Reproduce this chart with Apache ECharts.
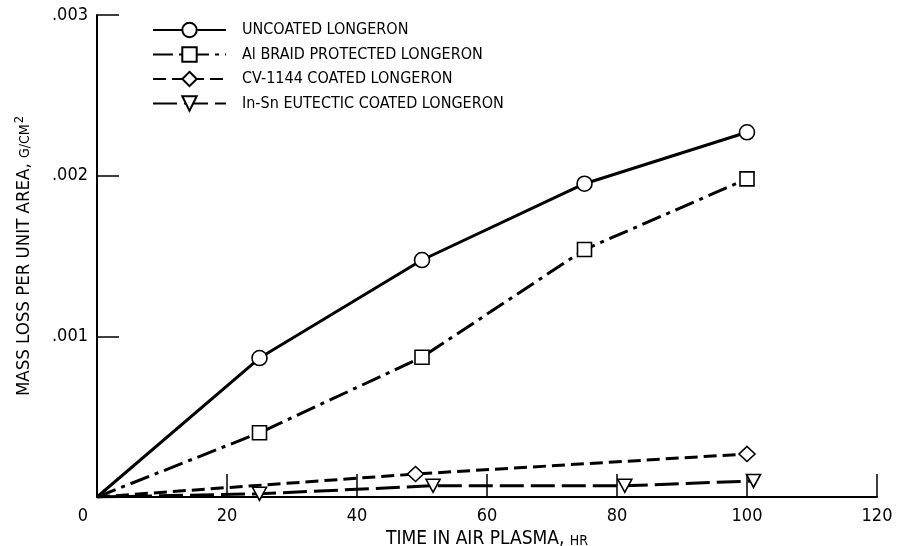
<!DOCTYPE html>
<html>
<head>
<meta charset="utf-8">
<script src="https://cdn.jsdelivr.net/npm/echarts@6/dist/echarts.min.js"></script>
<style>
html,body{margin:0;padding:0;background:#fff;}
#chart{width:899px;height:546px;}
</style>
</head>
<body>
<div id="chart"></div>
<script>
// ---- data ----
var seriesNames = ['UNCOATED LONGERON', 'Al BRAID PROTECTED LONGERON', 'CV-1144 COATED LONGERON', 'In-Sn EUTECTIC COATED LONGERON'];

var uncoatedX = [0, 25, 50, 75, 100];
var uncoatedY = [0, 0.000865, 0.001475, 0.00195, 0.00227];

var braidX = [0, 25, 50, 75, 100];
var braidY = [0, 0.00040, 0.00087, 0.00154, 0.00198];

var cvX = [0, 49, 100];
var cvY = [0, 0.000143, 0.000268];

var insnX = [0, 25, 51.7, 81.2, 101];
var insnY = [0, 0.00002, 0.00007, 0.00007, 0.00010];

var xTickValues = [0, 20, 40, 60, 80, 100, 120];
var xTickLabels = ['0', '20', '40', '60', '80', '100', '120'];
var yTickValues = [0, 0.001, 0.002, 0.003];
var yTickLabels = ['', '.001', '.002', '.003'];

// ---- chart ----
var FONT = "'DejaVu Sans Condensed', 'Liberation Sans Narrow', 'DejaVu Sans', sans-serif";

function buildData(xs, ys) {
  return xs.map(function (x, i) {
    var d = { value: [x, ys[i]] };
    if (i === 0) d.symbol = 'none';
    return d;
  });
}

function labelFor(values, labels, v, tol) {
  for (var i = 0; i < values.length; i++) {
    if (Math.abs(values[i] - v) < tol) return labels[i];
  }
  return '';
}

var markerStyle = { color: '#fff', borderColor: '#000', borderWidth: 1.6 };

var chart = echarts.init(document.getElementById('chart'), null, { renderer: 'canvas' });
chart.setOption({
  backgroundColor: '#fff',
  animation: false,
  textStyle: { fontFamily: FONT, color: '#000' },
  grid: { left: 97, right: 22, top: 15, bottom: 49, containLabel: false, outerBoundsMode: 'none' },
  legend: {
    orient: 'vertical',
    left: 147,
    top: 16,
    itemWidth: 73,
    itemHeight: 18,
    itemGap: 6.5,
    data: seriesNames,
    textStyle: { fontFamily: FONT, fontSize: 16, color: '#000', padding: [0, 0, 0, 11], lineHeight: 18 }
  },
  xAxis: {
    type: 'value',
    min: 0, max: 120, interval: 20,
    name: '{a|TIME IN AIR PLASMA, }{b|HR}',
    nameLocation: 'middle',
    nameGap: 26,
    nameTextStyle: {
      rich: {
        a: { fontFamily: FONT, fontSize: 19, color: '#000' },
        b: { fontFamily: FONT, fontSize: 14, color: '#000', padding: [3, 0, 0, 0] }
      }
    },
    axisLine: { show: true, onZero: false, lineStyle: { color: '#000', width: 2 } },
    axisTick: { show: true, inside: true, length: 23, lineStyle: { color: '#000', width: 1.5 } },
    splitLine: { show: false },
    axisLabel: {
      margin: 10,
      fontFamily: FONT, fontSize: 18, color: '#000',
      formatter: function (v) {
        var t = labelFor(xTickValues, xTickLabels, v, 1e-6);
        if (v === 0) return '{z|' + t + '}';
        return t;
      },
      rich: { z: { fontFamily: FONT, fontSize: 18, color: '#000', padding: [0, 28, 0, 0] } }
    }
  },
  yAxis: {
    type: 'value',
    min: 0, max: 0.003, interval: 0.001,
    name: '{a|MASS LOSS PER UNIT AREA, }{b|G/CM}{c|2}',
    nameLocation: 'middle',
    nameRotate: 90,
    nameGap: 62,
    nameTextStyle: {
      rich: {
        a: { fontFamily: FONT, fontSize: 18.5, color: '#000' },
        b: { fontFamily: FONT, fontSize: 14, color: '#000', padding: [3, 0, 0, 0] },
        c: { fontFamily: FONT, fontSize: 13, color: '#000', padding: [0, 0, 9, 1] }
      }
    },
    axisLine: { show: true, lineStyle: { color: '#000', width: 2 } },
    axisTick: { show: true, inside: true, length: 22, lineStyle: { color: '#000', width: 1.5 } },
    splitLine: { show: false },
    axisLabel: {
      margin: 9,
      fontFamily: FONT, fontSize: 18, color: '#000',
      formatter: function (v) { return labelFor(yTickValues, yTickLabels, v, 1e-9); }
    }
  },
  series: [
    {
      name: seriesNames[0], type: 'line',
      data: buildData(uncoatedX, uncoatedY),
      symbol: 'circle', symbolSize: 15,
      lineStyle: { color: '#000', width: 3, type: 'solid' },
      itemStyle: markerStyle
    },
    {
      name: seriesNames[1], type: 'line',
      data: buildData(braidX, braidY),
      symbol: 'rect', symbolSize: 14,
      lineStyle: { color: '#000', width: 3, type: [20, 6, 4, 6] },
      itemStyle: markerStyle
    },
    {
      name: seriesNames[2], type: 'line',
      data: buildData(cvX, cvY),
      symbol: 'diamond', symbolSize: [16, 15],
      lineStyle: { color: '#000', width: 3, type: [13, 6] },
      itemStyle: markerStyle
    },
    {
      name: seriesNames[3], type: 'line',
      data: buildData(insnX, insnY),
      symbol: 'triangle', symbolSize: [14, 13], symbolRotate: 180,
      lineStyle: { color: '#000', width: 3, type: [24, 7] },
      itemStyle: markerStyle
    }
  ]
});
</script>
</body>
</html>
